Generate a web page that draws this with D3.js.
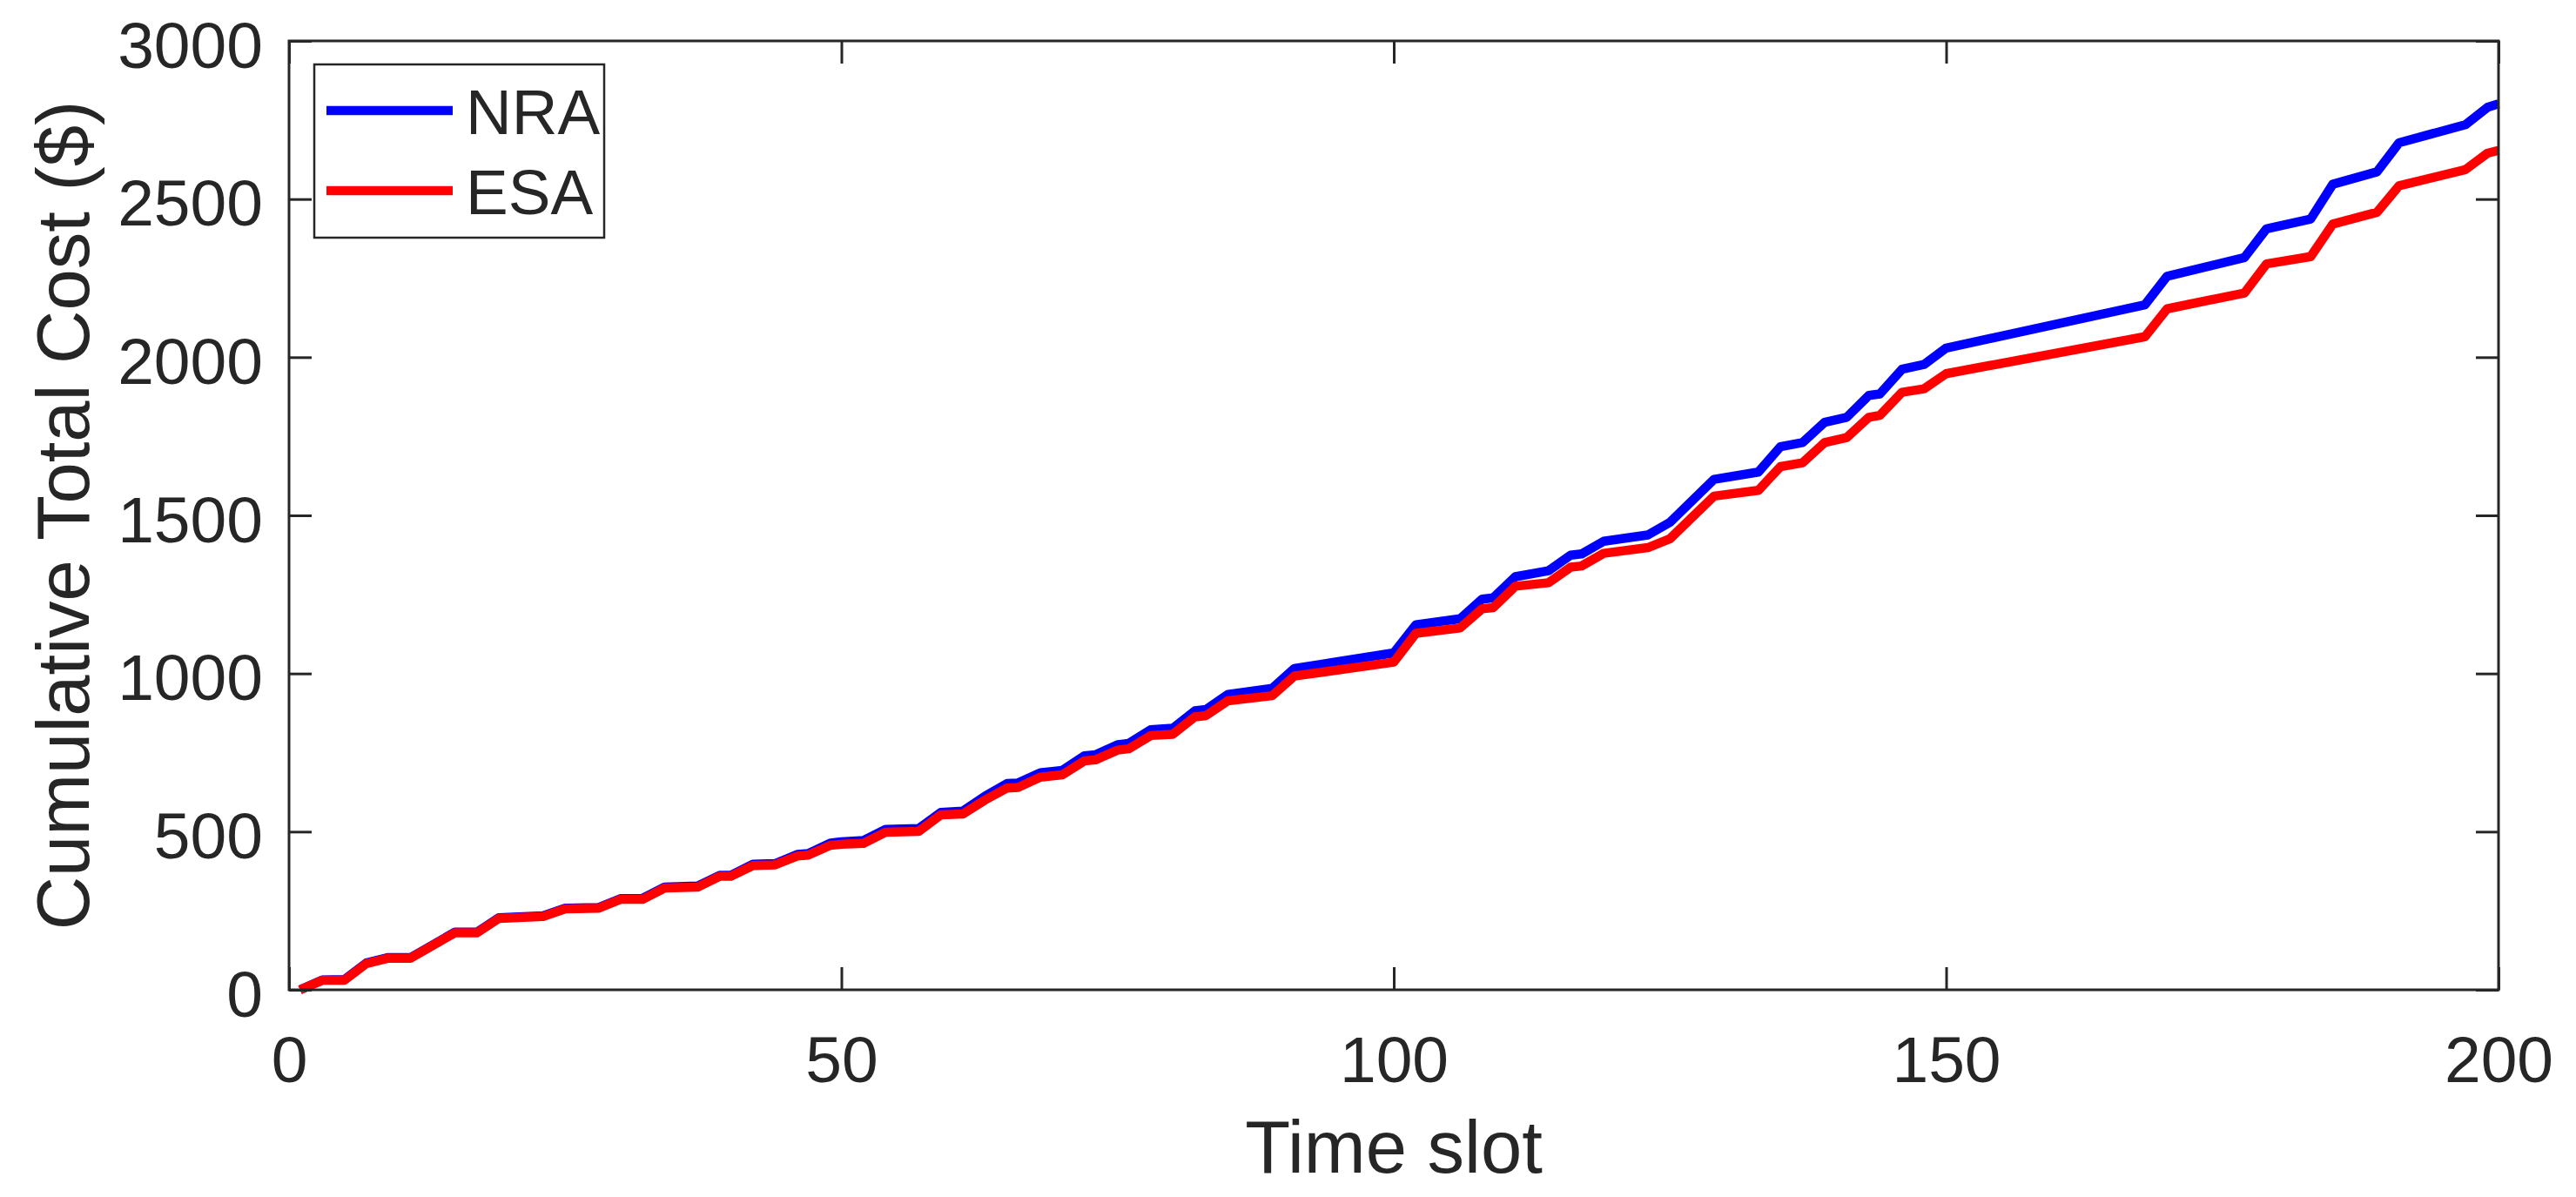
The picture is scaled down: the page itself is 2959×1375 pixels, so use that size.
<!DOCTYPE html>
<html>
<head>
<meta charset="utf-8">
<script src="https://cdn.jsdelivr.net/npm/d3@7"></script>
<style>
  html, body { margin: 0; padding: 0; background: #ffffff; }
  svg { display: block; }
  text { font-family: "Liberation Sans", Arial, Helvetica, sans-serif; fill: #262626; }
</style>
</head>
<body>
<svg id="chart" width="2959" height="1375"></svg>
<script>
// ---- Data ----
const timeSlots = [1, 3, 5, 7, 9, 11, 15, 17, 19, 23, 25, 28, 30, 32, 34, 37, 39, 40, 42, 44,
  46, 47, 49, 50, 52, 54, 57, 59, 61, 63, 65, 66, 68, 70, 72, 73, 75, 76, 78, 80, 82, 83, 85, 89,
  91, 100, 102, 106, 108, 109, 111, 114, 116, 117, 119, 123, 125, 129, 133, 135, 137, 139, 141, 143,
  144, 146, 148, 150, 168, 170, 177, 179, 183, 185, 189, 191, 197, 199, 200];

const nraCost = [0, 31, 32, 85, 102, 102, 182, 182, 228, 234, 258, 260, 288, 289, 325, 328, 362, 362, 397, 399,
  428, 431, 464, 468, 472, 507, 510, 561, 565, 612, 652, 654, 686, 694, 740, 743, 775, 779, 822, 827, 882, 886, 934, 953,
  1016, 1065, 1154, 1173, 1235, 1239, 1306, 1325, 1374, 1378, 1418, 1438, 1478, 1614, 1637, 1717, 1730, 1794, 1810, 1879,
  1884, 1962, 1977, 2029, 2166, 2256, 2315, 2406, 2437, 2547, 2586, 2678, 2735, 2790, 2801];

const esaCost = [0, 30, 30, 83, 100, 100, 180, 180, 226, 232, 256, 258, 286, 286, 322, 325, 359, 359, 393, 395,
  423, 426, 457, 460, 463, 498, 501, 553, 556, 600, 638, 640, 672, 680, 724, 727, 758, 762, 804, 808, 863, 867, 914, 930,
  992, 1036, 1127, 1144, 1205, 1208, 1276, 1287, 1336, 1340, 1380, 1398, 1426, 1561, 1579, 1654, 1666, 1730, 1746, 1810,
  1816, 1889, 1900, 1948, 2065, 2153, 2203, 2295, 2318, 2421, 2458, 2542, 2593, 2645, 2654];

const xTicks = [0, 50, 100, 150, 200];
const yTicks = [0, 500, 1000, 1500, 2000, 2500, 3000];
const seriesNames = ["NRA", "ESA"];
const seriesColors = ["#0000ff", "#ff0000"];
const xLabel = "Time slot";
const yLabel = "Cumulative Total Cost ($)";

// ---- Layout ----
const plot = { left: 332, right: 2870, top: 47, bottom: 1137 };
const axisColor = "#262626";
const tickLen = 26;

const svg = d3.select("#chart");
svg.append("rect").attr("width", 2959).attr("height", 1375).attr("fill", "#ffffff");

const x = d3.scaleLinear().domain([0, 200]).range([plot.left, plot.right]);
const y = d3.scaleLinear().domain([0, 3000]).range([plot.bottom, plot.top]);

// ---- Lines ----
const series = [nraCost, esaCost];
const line = d3.line()
  .x((d, i) => x(timeSlots[i]))
  .y(d => y(d));

const lineG = svg.append("g");
series.forEach((vals, k) => {
  lineG.append("path")
    .datum(vals)
    .attr("d", line)
    .attr("fill", "none")
    .attr("stroke", seriesColors[k])
    .attr("stroke-width", 10.5)
    .attr("stroke-linejoin", "round")
    .attr("stroke-linecap", "butt");
});

// ---- Axes ----
function styleAxis(g) {
  g.select(".domain").remove();
  g.selectAll(".tick line").attr("stroke", axisColor).attr("stroke-width", 3);
  g.selectAll(".tick text")
    .style("font-family", '"Liberation Sans", Arial, Helvetica, sans-serif')
    .attr("fill", axisColor)
    .style("font-size", "75px");
}

svg.append("g")
  .attr("transform", `translate(0,${plot.bottom})`)
  .call(d3.axisBottom(x).tickValues(xTicks).tickSizeInner(-tickLen).tickSizeOuter(0).tickPadding(53).tickFormat(d3.format("d")))
  .call(styleAxis);

svg.append("g")
  .attr("transform", `translate(${plot.left},0)`)
  .call(d3.axisLeft(y).tickValues(yTicks).tickSizeInner(-tickLen).tickSizeOuter(0).tickPadding(30).tickFormat(d3.format("d")))
  .call(styleAxis)
  .call(g => g.selectAll(".tick text").attr("dy", "0.4em"));

svg.append("g")
  .attr("transform", `translate(0,${plot.top})`)
  .call(d3.axisTop(x).tickValues(xTicks).tickSizeInner(-tickLen).tickSizeOuter(0).tickFormat(""))
  .call(styleAxis);

svg.append("g")
  .attr("transform", `translate(${plot.right},0)`)
  .call(d3.axisRight(y).tickValues(yTicks).tickSizeInner(-tickLen).tickSizeOuter(0).tickFormat(""))
  .call(styleAxis);

// box
svg.append("rect")
  .attr("x", plot.left).attr("y", plot.top)
  .attr("width", plot.right - plot.left).attr("height", plot.bottom - plot.top)
  .attr("fill", "none").attr("stroke", axisColor).attr("stroke-width", 3);

// ---- Axis labels ----
svg.append("text")
  .attr("x", (plot.left + plot.right) / 2).attr("y", 1347)
  .attr("text-anchor", "middle")
  .style("font-size", "85px")
  .text(xLabel);

svg.append("text")
  .attr("transform", `translate(102,${(plot.top + plot.bottom) / 2}) rotate(-90)`)
  .attr("text-anchor", "middle")
  .style("font-size", "85px")
  .text(yLabel);

// ---- Legend ----
const leg = svg.append("g");
leg.append("rect")
  .attr("x", 361).attr("y", 74).attr("width", 333).attr("height", 199)
  .attr("fill", "#ffffff").attr("stroke", axisColor).attr("stroke-width", 2.5);
const legRowY = [127, 219];
seriesNames.forEach((name, k) => {
  leg.append("line")
    .attr("x1", 375).attr("x2", 520)
    .attr("y1", legRowY[k]).attr("y2", legRowY[k])
    .attr("stroke", seriesColors[k]).attr("stroke-width", 10.5);
  leg.append("text")
    .attr("x", 535).attr("y", legRowY[k] + 27)
    .style("font-size", "73px")
    .attr("fill", "#000000")
    .text(name);
});
</script>
</body>
</html>
